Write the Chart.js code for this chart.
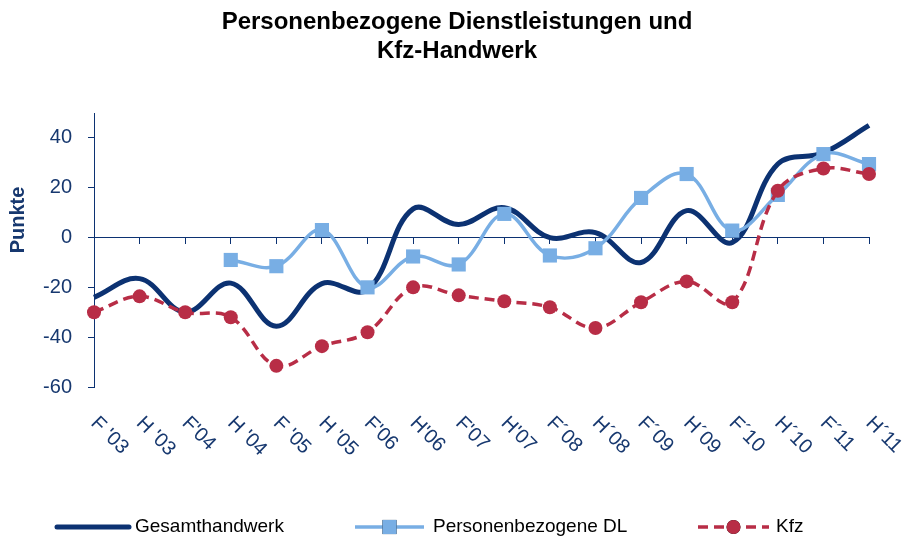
<!DOCTYPE html>
<html>
<head>
<meta charset="utf-8">
<script src="https://cdn.jsdelivr.net/npm/chart.js@4/dist/chart.umd.min.js"></script>
<style>
html,body{margin:0;padding:0;background:#fff;}
#c{display:block;}
</style>
</head>
<body>
<canvas id="c" width="907" height="539"></canvas>
<script>
const categories = ["F '03","H '03","F'04","H '04","F '05","H '05","F'06","H'06","F'07","H'07","F´08","H´08","F´09","H´09","F´10","H´10","F´11","H´11"];
const gesamthandwerk = [-24,-16.5,-30,-18.3,-35.6,-18.5,-21,11.5,5.2,12,0,2,-10,10.8,-2,29.5,34,45];
const personenbezogeneDL = [null,null,null,-9,-11.5,3,-20,-7.6,-10.8,9.5,-7.2,-4.3,15.9,25.5,2.8,17.1,33.5,29.5];
const kfz = [-30,-23.6,-30,-32,-51.5,-43.6,-38,-20,-23.2,-25.6,-28,-36.3,-26,-17.6,-26,18.8,27.7,25.5];
const yTickValues = [-60,-40,-20,0,20,40];
const seriesNames = ["Gesamthandwerk","Personenbezogene DL","Kfz"];
const titleLines = ["Personenbezogene Dienstleistungen und","Kfz-Handwerk"];
const yAxisTitle = "Punkte";

const NAVY = '#0c3272';
const TEXT = '#17386f';
const LIGHT = '#78aee4';
const RED = '#b82d46';
const FONT = "'Liberation Sans', Arial, sans-serif";

const customDraw = {
  id: 'customDraw',
  afterDraw(chart) {
    const ctx = chart.ctx;
    const xs = chart.scales.x;
    // title
    ctx.save();
    ctx.fillStyle = '#000';
    ctx.font = "bold 24px " + FONT;
    ctx.textAlign = 'center';
    ctx.textBaseline = 'alphabetic';
    titleLines.forEach((t, i) => ctx.fillText(t, 457, 29 + i * 28.5));
    ctx.restore();
    // x tick labels, rotated clockwise
    ctx.save();
    ctx.fillStyle = TEXT;
    ctx.font = "20px " + FONT;
    ctx.textAlign = 'left';
    ctx.textBaseline = 'top';
    categories.forEach((lab, i) => {
      const x = xs.getPixelForValue(i);
      ctx.save();
      ctx.translate(x + 7, 413);
      ctx.rotate(Math.PI / 4);
      ctx.fillText(lab, 0, 0);
      ctx.restore();
    });
    ctx.restore();
    // y axis title
    ctx.save();
    ctx.fillStyle = TEXT;
    ctx.font = "bold 20px " + FONT;
    ctx.translate(18, 220);
    ctx.rotate(-Math.PI / 2);
    ctx.textAlign = 'center';
    ctx.textBaseline = 'middle';
    ctx.fillText(yAxisTitle, 0, 0);
    ctx.restore();
    // legend
    const ly = 527;
    const items = [
      {x1: 57, x2: 129, tx: 135, ds: 0},
      {x1: 355, x2: 424, tx: 433, ds: 1},
      {x1: 698, x2: 769, tx: 776, ds: 2}
    ];
    items.forEach(it => {
      const d = chart.data.datasets[it.ds];
      ctx.save();
      ctx.strokeStyle = d.borderColor;
      ctx.lineWidth = d.borderWidth;
      ctx.lineCap = it.ds === 0 ? 'round' : 'butt';
      ctx.setLineDash(d.borderDash || []);
      ctx.beginPath();
      ctx.moveTo(it.x1, ly);
      ctx.lineTo(it.x2, ly);
      ctx.stroke();
      ctx.setLineDash([]);
      const cx = (it.x1 + it.x2) / 2;
      if (d.pointRadius > 0) {
        Chart.helpers.drawPoint(ctx, {pointStyle: d.pointStyle, radius: d.pointRadius, borderWidth: 0}, cx, ly);
        ctx.fillStyle = d.pointBackgroundColor;
        ctx.fill();
      }
      ctx.fillStyle = '#000';
      ctx.font = "19px " + FONT;
      ctx.textAlign = 'left';
      ctx.textBaseline = 'middle';
      ctx.fillText(seriesNames[it.ds], it.tx, ly);
      ctx.restore();
    });
  }
};

new Chart(document.getElementById('c'), {
  type: 'line',
  data: {
    labels: categories,
    datasets: [
      {label: seriesNames[0], data: gesamthandwerk, borderColor: NAVY, backgroundColor: NAVY, borderWidth: 5, pointRadius: 0, tension: 0.38, order: 3},
      {label: seriesNames[1], data: personenbezogeneDL, borderColor: LIGHT, backgroundColor: LIGHT, borderWidth: 3.5, pointStyle: 'rect', pointRadius: 10, pointBackgroundColor: LIGHT, pointBorderWidth: 0, pointHoverRadius: 10, tension: 0.38, order: 2},
      {label: seriesNames[2], data: kfz, borderColor: RED, backgroundColor: RED, borderWidth: 3.5, borderDash: [10, 6], pointStyle: 'circle', pointRadius: 7, pointBackgroundColor: RED, pointBorderWidth: 0, pointHoverRadius: 7, tension: 0.38, order: 1}
    ]
  },
  options: {
    responsive: false,
    animation: false,
    layout: {padding: {left: 0, right: 38, top: 113, bottom: 152}},
    plugins: {
      legend: {display: false},
      tooltip: {enabled: false},
      title: {display: false}
    },
    scales: {
      x: {
        type: 'category',
        display: false,
        offset: false
      },
      x2: {
        type: 'category',
        axis: 'x',
        position: {y: 0},
        offset: false,
        labels: categories,
        ticks: {display: false},
        grid: {drawOnChartArea: false, drawTicks: true, tickLength: 6, color: NAVY, lineWidth: 1},
        border: {display: true, color: NAVY, width: 1}
      },
      y: {
        min: -60,
        max: 50,
        afterBuildTicks: (scale) => { scale.ticks = yTickValues.map(v => ({value: v})); },
        afterFit: (scale) => { scale.width = 94; },
        ticks: {color: TEXT, font: {family: FONT, size: 20}, padding: 16},
        grid: {drawOnChartArea: false, drawTicks: true, tickLength: 6, color: NAVY, lineWidth: 1},
        border: {display: true, color: NAVY, width: 1}
      }
    }
  },
  plugins: [customDraw]
});
</script>
</body>
</html>
